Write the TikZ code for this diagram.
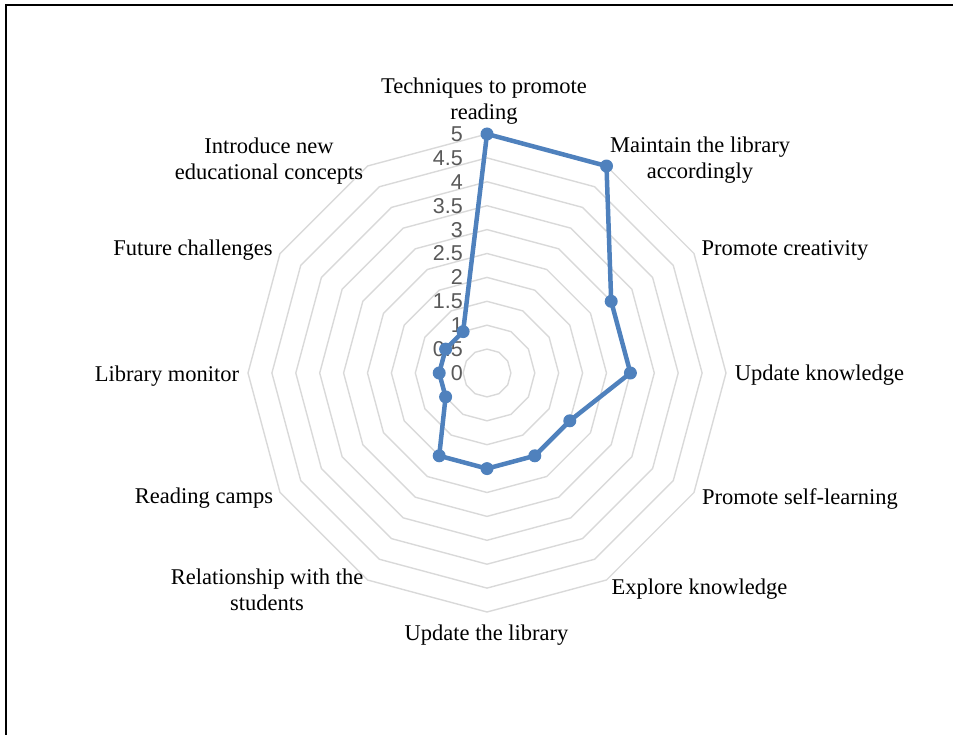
\documentclass[tikz,border=0pt]{standalone}
\usepackage{fontspec}
\setmainfont{Liberation Serif}
\newfontfamily\numfont{Liberation Sans}
\definecolor{series}{RGB}{79,129,189}
\definecolor{gridc}{RGB}{217,217,217}
\definecolor{numc}{RGB}{89,89,89}
\tikzset{
  gridline/.style={draw=gridc, line width=1.4pt, line join=miter},
  seriesline/.style={draw=series, line width=4.5pt, line join=round},
  marker/.style={circle, fill=series, inner sep=0pt, minimum size=13pt},
  catlabel/.style={align=center, inner sep=0pt, font=\fontsize{22.5}{26}\selectfont, yshift=-2.5pt},
  numlabel/.style={anchor=east, inner sep=0pt, text=numc, font=\numfont\fontsize{21.5}{24}\selectfont},
  frameline/.style={draw=black, line width=2pt}
}
\begin{document}
\begin{tikzpicture}[x=1pt,y=-1pt]
\useasboundingbox (0,0) rectangle (953,735);
% frame
\draw[frameline] (5.5,735) -- (5.5,5.5) -- (953,5.5);
% grid rings
\foreach \k in {1,...,10}{
  \pgfmathsetmacro{\r}{\k*23.9}
  \draw[gridline] (487,{373-\r}) \foreach \t in {30,60,...,330}{ -- ({487+\r*sin(\t)},{373-\r*cos(\t)}) } -- cycle;
}
% axis numbers
\foreach \k/\lab in {0/0,1/0.5,2/1,3/1.5,4/2,5/2.5,6/3,7/3.5,8/4,9/4.5,10/5}{
  \node[numlabel] (n\k) at (463,{373-\k*23.9}) {\lab};
}
% data points
\foreach \i/\v in {1/5,2/5,3/3,4/3,5/2,6/2,7/2,8/2,9/1,10/1,11/1,12/1}{
  \pgfmathsetmacro{\t}{(\i-1)*30}
  \coordinate (p\i) at ({487+\v*47.8*sin(\t)},{373-\v*47.8*cos(\t)});
}
\draw[seriesline] (p1) -- (p2) -- (p3) -- (p4) -- (p5) -- (p6) -- (p7) -- (p8) -- (p9) -- (p10) -- (p11) -- (p12) -- cycle;
\foreach \i in {1,...,12}{ \node[marker] (m\i) at (p\i) {}; }
% category labels
\node[catlabel] (l1) at (484,99) {Techniques to promote\\reading};
\node[catlabel] (l2) at (700,158) {Maintain the library\\accordingly};
\node[catlabel] (l3) at (785,248) {Promote creativity};
\node[catlabel] (l4) at (819.5,373) {Update knowledge};
\node[catlabel] (l5) at (800,497) {Promote self-learning};
\node[catlabel] (l6) at (699.5,587) {Explore knowledge};
\node[catlabel] (l7) at (486.5,633) {Update the library};
\node[catlabel] (l8) at (267,587) {Relationship with the\\students};
\node[catlabel] (l9) at (204,496) {Reading camps};
\node[catlabel] (l10) at (167,374) {Library monitor};
\node[catlabel] (l11) at (193,248) {Future challenges};
\node[catlabel] (l12) at (269,159) {Introduce new\\educational concepts};
\end{tikzpicture}
\end{document}
